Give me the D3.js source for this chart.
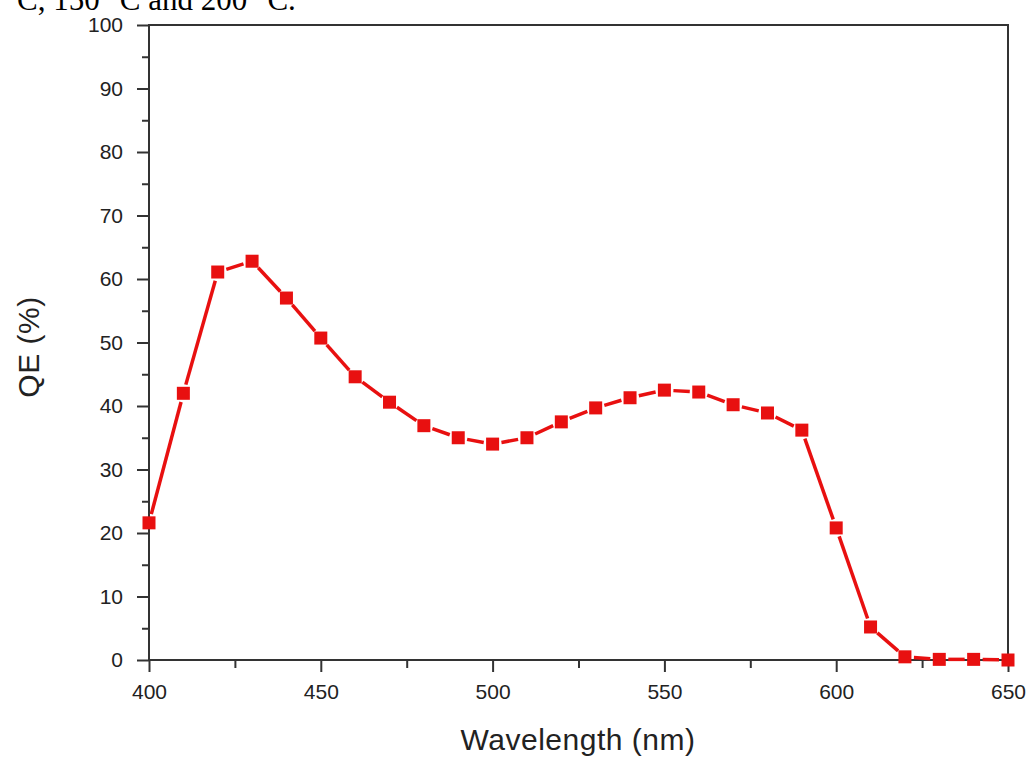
<!DOCTYPE html>
<html>
<head>
<meta charset="utf-8">
<script src="https://cdn.jsdelivr.net/npm/d3@7"></script>
<style>
  html, body { margin: 0; padding: 0; background: #fff; }
  svg { display: block; }
</style>
</head>
<body>
<svg id="chart" width="1033" height="760"></svg>
<script>
// Wavelength (nm) and quantum efficiency (%) of the device
const wavelengths = [400, 410, 420, 430, 440, 450, 460, 470, 480, 490, 500, 510, 520,
                     530, 540, 550, 560, 570, 580, 590, 600, 610, 620, 630, 640, 650];
const qeValues = [21.6, 42.0, 61.1, 62.8, 57.0, 50.7, 44.6, 40.6, 36.9, 35.0, 34.0, 35.0, 37.5,
                  39.7, 41.3, 42.5, 42.2, 40.2, 38.9, 36.2, 20.8, 5.2, 0.5, 0.1, 0.1, 0.0];
const xTicks = [400, 450, 500, 550, 600, 650];
const yTicks = [0, 10, 20, 30, 40, 50, 60, 70, 80, 90, 100];
const xMinorTicks = [425, 475, 525, 575, 625];
const yMinorTicks = [5, 15, 25, 35, 45, 55, 65, 75, 85, 95];

const svg = d3.select("#chart");
const plotLeft = 149, plotRight = 1008, plotTop = 25, plotBottom = 660;

const x = d3.scaleLinear().domain([400, 650]).range([plotLeft, plotRight]);
const y = d3.scaleLinear().domain([0, 100]).range([plotBottom, plotTop]);

const axisColor = "#333";
const textColor = "#222";
const sans = "'Liberation Sans', Arial, sans-serif";

// Caption text above the plot (runs off the top edge)
svg.append("text")
  .attr("x", 17).attr("y", 10)
  .attr("font-family", "'Liberation Serif', 'Times New Roman', serif")
  .attr("font-size", 31)
  .attr("fill", "#000")
  .text("C, 150 °C and 200 °C.");

// Frame
svg.append("rect")
  .attr("x", plotLeft).attr("y", plotTop)
  .attr("width", plotRight - plotLeft).attr("height", plotBottom - plotTop)
  .attr("fill", "none").attr("stroke", axisColor).attr("stroke-width", 2);

// Bottom axis: major and minor ticks
svg.append("g").attr("transform", `translate(0,${plotBottom})`)
  .call(d3.axisBottom(x).tickValues(xTicks).tickFormat(d3.format("d")).tickSize(12).tickPadding(12));
svg.append("g").attr("transform", `translate(0,${plotBottom})`)
  .call(d3.axisBottom(x).tickValues(xMinorTicks).tickFormat("").tickSize(8));

// Left axis: major and minor ticks
svg.append("g").attr("transform", `translate(${plotLeft},0)`)
  .call(d3.axisLeft(y).tickValues(yTicks).tickFormat(d3.format("d")).tickSize(12).tickPadding(14));
svg.append("g").attr("transform", `translate(${plotLeft},0)`)
  .call(d3.axisLeft(y).tickValues(yMinorTicks).tickFormat("").tickSize(7));

svg.selectAll(".domain").remove();
svg.selectAll(".tick line").attr("stroke", axisColor).attr("stroke-width", 2);
svg.selectAll(".tick text")
  .attr("font-family", sans)
  .attr("font-size", 21)
  .attr("fill", textColor);

// Axis titles
svg.append("text")
  .attr("x", 578).attr("y", 750)
  .attr("text-anchor", "middle")
  .attr("font-family", sans)
  .attr("font-size", 30)
  .attr("letter-spacing", 0.5)
  .attr("fill", textColor)
  .text("Wavelength (nm)");

svg.append("text")
  .attr("transform", `translate(39,347) rotate(-90)`)
  .attr("text-anchor", "middle")
  .attr("font-family", sans)
  .attr("font-size", 30)
  .attr("letter-spacing", 0.5)
  .attr("fill", textColor)
  .text("QE (%)");

// Data line: segments stop short of each marker, then square markers on top
const pts = wavelengths.map((w, i) => [x(w), y(qeValues[i])]);
const red = "#e81010";
const gap = 9;

const segments = d3.pairs(pts).map(([a, b]) => {
  const dx = b[0] - a[0], dy = b[1] - a[1];
  const len = Math.hypot(dx, dy);
  const ux = dx / len, uy = dy / len;
  return [[a[0] + ux * gap, a[1] + uy * gap], [b[0] - ux * gap, b[1] - uy * gap], len];
}).filter(s => s[2] > 2 * gap);

svg.append("g").selectAll("line")
  .data(segments)
  .join("line")
  .attr("x1", d => d[0][0]).attr("y1", d => d[0][1])
  .attr("x2", d => d[1][0]).attr("y2", d => d[1][1])
  .attr("stroke", red)
  .attr("stroke-width", 3.5);

const ms = 13;
svg.append("g").selectAll("rect")
  .data(pts)
  .join("rect")
  .attr("x", d => d[0] - ms / 2)
  .attr("y", d => d[1] - ms / 2)
  .attr("width", ms).attr("height", ms)
  .attr("fill", red);
</script>
</body>
</html>
